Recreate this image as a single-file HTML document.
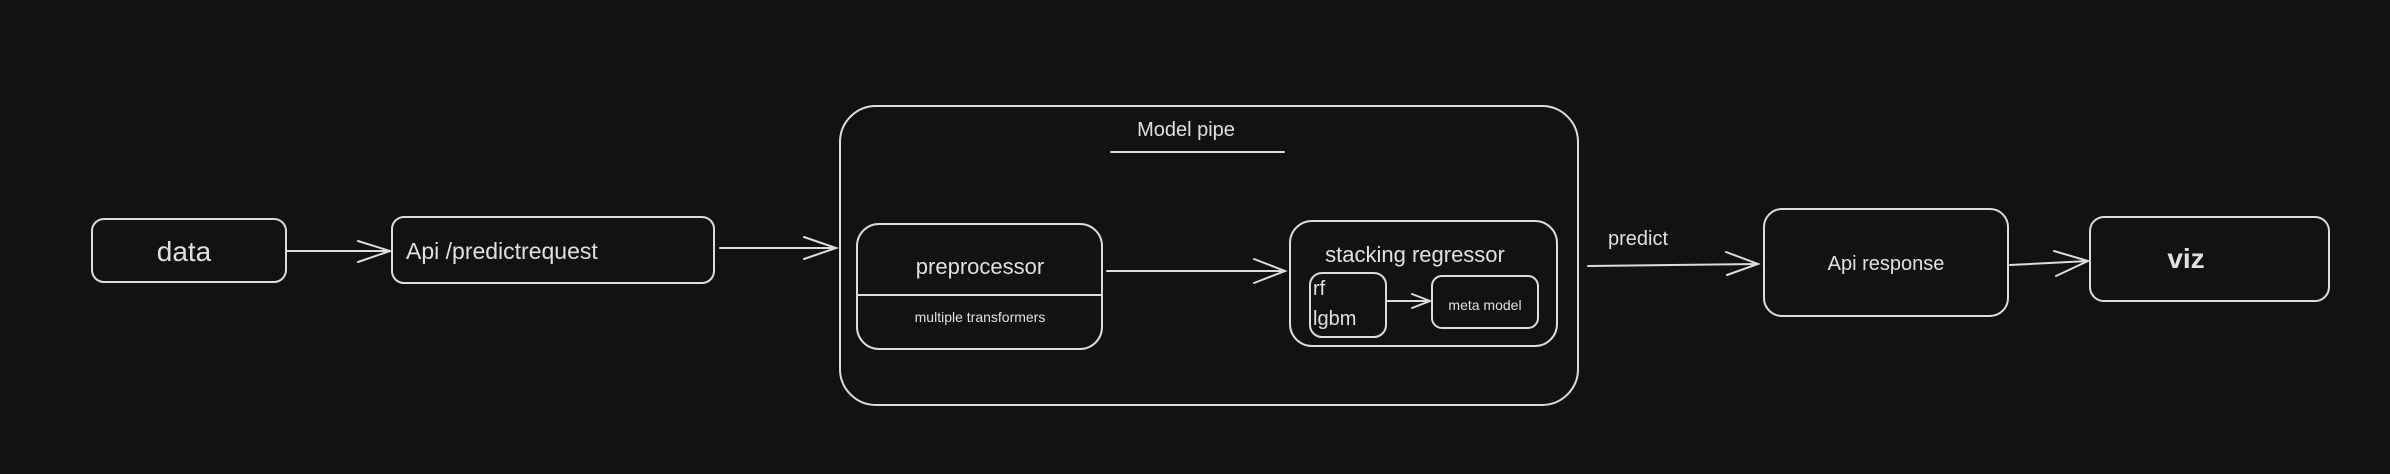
<!DOCTYPE html>
<html><head><meta charset="utf-8"><style>
html,body{margin:0;padding:0;background:#121212;}
svg{display:block}
text{font-family:"Liberation Sans",sans-serif;fill:#e0e0e0;}
</style></head><body>
<svg width="2390" height="474" viewBox="0 0 2390 474" xmlns="http://www.w3.org/2000/svg">
<rect width="2390" height="474" fill="#121212"/>
<g fill="none" stroke="#dcdcdc" stroke-width="2" stroke-linecap="round">
<rect x="92" y="219" width="194" height="63" rx="12"/>
<rect x="392" y="217" width="322" height="66" rx="12"/>
<rect x="840" y="106" width="738" height="299" rx="36"/>
<line x1="1111" y1="152" x2="1284" y2="152"/>
<rect x="857" y="224" width="245" height="125" rx="22"/>
<line x1="858" y1="295" x2="1101" y2="295"/>
<rect x="1290" y="221" width="267" height="125" rx="22"/>
<rect x="1310" y="273" width="76" height="64" rx="12"/>
<rect x="1432" y="276" width="106" height="52" rx="10"/>
<rect x="1764" y="209" width="244" height="107" rx="18"/>
<rect x="2090" y="217" width="239" height="84" rx="14"/>
<path d="M286 251 L390 251 M358 241 L390 251 L358 262"/>
<path d="M720 248 L836 248 M804 237 L836 248 L804 259"/>
<path d="M1107 271 L1285 271 M1254 259 L1285 271 L1254 283"/>
<path d="M1386 301 L1430 301 M1412 294 L1430 301 L1412 308"/>
<path d="M1588 266 L1758 264 M1726 252 L1758 264 L1727 275"/>
<path d="M2010 265 L2088 261 M2054 251 L2088 261 L2056 276"/>
</g>
<text x="184" y="261" font-size="28" text-anchor="middle">data</text>
<text x="406" y="259" font-size="23">Api /predictrequest</text>
<text x="1186" y="136" font-size="20" text-anchor="middle">Model pipe</text>
<text x="980" y="274" font-size="22" text-anchor="middle">preprocessor</text>
<text x="980" y="322" font-size="14" text-anchor="middle">multiple transformers</text>
<text x="1415" y="262" font-size="22" text-anchor="middle">stacking regressor</text>
<text x="1313" y="295" font-size="20">rf</text>
<text x="1313" y="325" font-size="20">lgbm</text>
<text x="1485" y="310" font-size="14" text-anchor="middle">meta model</text>
<text x="1608" y="245" font-size="20">predict</text>
<text x="1886" y="270" font-size="20" text-anchor="middle">Api response</text>
<text x="2186" y="268" font-size="28" text-anchor="middle" font-weight="bold">viz</text>
</svg>
</body></html>
